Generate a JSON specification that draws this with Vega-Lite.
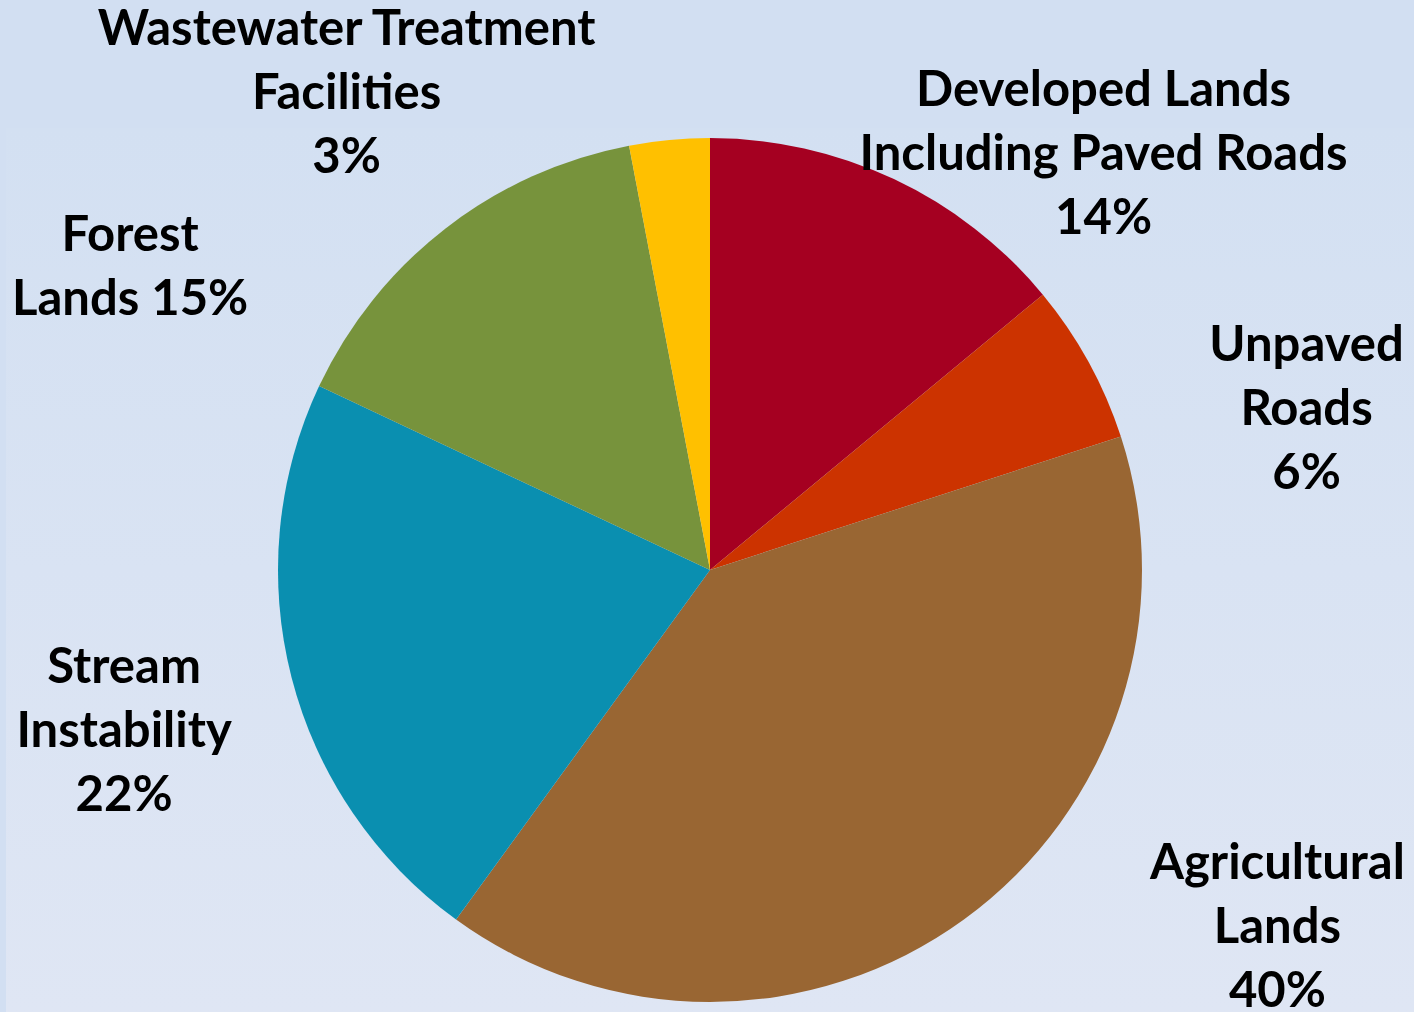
{
  "$schema": "https://vega.github.io/schema/vega-lite/v6.json",
  "width": 1408,
  "height": 884,
  "autosize": "none",
  "padding": {"top": 128, "left": 6, "right": 0, "bottom": 0},
  "background": "#D2DFF2",
  "config": {
    "view": {"stroke": null},
    "text": {"font": "Lato", "fontWeight": "bold", "fontSize": 49, "lineHeight": 64, "lineBreak": "\n", "align": "center", "baseline": "middle", "color": "#000000"}
  },
  "data": {
    "values": [
      {"rank": 1, "source": "Developed Lands Including Paved Roads", "share": 14, "label": "Developed Lands\nIncluding Paved Roads\n14%"},
      {"rank": 2, "source": "Unpaved Roads", "share": 6, "label": "Unpaved\nRoads\n6%"},
      {"rank": 3, "source": "Agricultural Lands", "share": 40, "label": "Agricultural\nLands\n40%"},
      {"rank": 4, "source": "Stream Instability", "share": 22, "label": "Stream\nInstability\n22%"},
      {"rank": 5, "source": "Forest Lands", "share": 15, "label": "Forest\nLands 15%"},
      {"rank": 6, "source": "Wastewater Treatment Facilities", "share": 3, "label": "Wastewater Treatment\nFacilities\n3%"}
    ]
  },
  "layer": [
    {
      "data": {"values": [{"area": "background"}]},
      "mark": {
        "type": "rect",
        "fill": {"gradient": "linear", "x1": 0, "y1": 0, "x2": 0, "y2": 1,
          "stops": [{"offset": 0, "color": "#D3E0F2"}, {"offset": 1, "color": "#DFE6F4"}]}
      },
      "encoding": {}
    },
    {
      "mark": {"type": "arc", "outerRadius": 432},
      "encoding": {
        "theta": {"field": "share", "type": "quantitative", "stack": true},
        "order": {"field": "rank", "type": "quantitative"},
        "color": {
          "field": "source", "type": "nominal", "legend": null,
          "scale": {
            "domain": ["Developed Lands Including Paved Roads", "Unpaved Roads", "Agricultural Lands", "Stream Instability", "Forest Lands", "Wastewater Treatment Facilities"],
            "range": ["#A50021", "#CC3300", "#996633", "#0A8FB0", "#77933C", "#FFC000"]
          }
        }
      }
    },
    {
      "mark": {"type": "text", "radius": 572, "dx": 150, "dy": 39},
      "encoding": {
        "theta": {"field": "share", "type": "quantitative", "stack": true},
        "order": {"field": "rank", "type": "quantitative"},
        "text": {"condition": {"test": "datum.rank === 1", "field": "label", "type": "nominal"}, "value": ""}}
    },
    {
      "mark": {"type": "text", "radius": 618, "dx": 55, "dy": 74},
      "encoding": {
        "theta": {"field": "share", "type": "quantitative", "stack": true},
        "order": {"field": "rank", "type": "quantitative"},
        "text": {"condition": {"test": "datum.rank === 2", "field": "label", "type": "nominal"}, "value": ""}}
    },
    {
      "mark": {"type": "text", "radius": 671, "dx": 173, "dy": -249},
      "encoding": {
        "theta": {"field": "share", "type": "quantitative", "stack": true},
        "order": {"field": "rank", "type": "quantitative"},
        "text": {"condition": {"test": "datum.rank === 3", "field": "label", "type": "nominal"}, "value": ""}}
    },
    {
      "mark": {"type": "text", "radius": 608, "dx": 3, "dy": -53},
      "encoding": {
        "theta": {"field": "share", "type": "quantitative", "stack": true},
        "order": {"field": "rank", "type": "quantitative"},
        "text": {"condition": {"test": "datum.rank === 4", "field": "label", "type": "nominal"}, "value": ""}}
    },
    {
      "mark": {"type": "text", "radius": 654, "dx": -179, "dy": 183},
      "encoding": {
        "theta": {"field": "share", "type": "quantitative", "stack": true},
        "order": {"field": "rank", "type": "quantitative"},
        "text": {"condition": {"test": "datum.rank === 5", "field": "label", "type": "nominal"}, "value": ""}}
    },
    {
      "mark": {"type": "text", "radius": 599, "dx": -307, "dy": 56},
      "encoding": {
        "theta": {"field": "share", "type": "quantitative", "stack": true},
        "order": {"field": "rank", "type": "quantitative"},
        "text": {"condition": {"test": "datum.rank === 6", "field": "label", "type": "nominal"}, "value": ""}}
    }
  ]
}
